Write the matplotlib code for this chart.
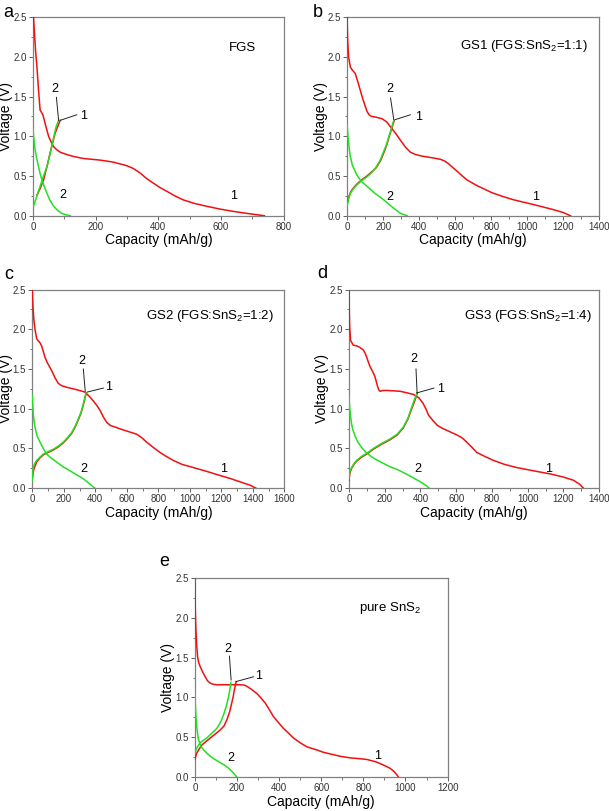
import matplotlib
matplotlib.use("Agg")
import matplotlib.pyplot as plt
from matplotlib.ticker import MultipleLocator, FormatStrFormatter

plt.rcParams['font.family'] = ['Liberation Sans', 'DejaVu Sans']
plt.rcParams['mathtext.fontset'] = 'custom'
plt.rcParams['mathtext.rm'] = 'Liberation Sans'
plt.rcParams['mathtext.default'] = 'regular'

RED = '#f01010'
GREEN = '#22e022'

# ---- a: FGS ----
a_dis1_x = [2, 5, 9, 13, 18, 23, 32, 39, 50, 58, 66, 76, 87, 108, 130, 161, 214, 256, 299, 320, 341, 362, 384, 405, 426, 450, 479, 515, 553, 595, 638, 690, 738]
a_dis1_y = [2.5, 2.3, 2.05, 1.87, 1.58, 1.33, 1.27, 1.16, 1.0, 0.93, 0.87, 0.83, 0.80, 0.77, 0.745, 0.72, 0.70, 0.675, 0.63, 0.595, 0.54, 0.47, 0.41, 0.355, 0.31, 0.255, 0.20, 0.155, 0.12, 0.085, 0.055, 0.025, 0.0]
a_cha1_x = [13, 24, 34, 45, 55, 63, 71, 80, 87]
a_cha1_y = [0.26, 0.35, 0.45, 0.62, 0.79, 0.92, 1.04, 1.13, 1.2]
a_cha2_x = [2, 12, 23, 34, 45, 53, 60, 67, 74, 82]
a_cha2_y = [0.12, 0.24, 0.37, 0.50, 0.62, 0.75, 0.87, 1.0, 1.12, 1.2]
a_dis2_x = [0, 3, 7, 12, 18, 23, 29, 37, 45, 55, 66, 78, 92, 105, 119]
a_dis2_y = [1.1, 0.97, 0.83, 0.72, 0.62, 0.53, 0.45, 0.36, 0.28, 0.19, 0.12, 0.07, 0.03, 0.012, 0.0]

# ---- b: GS1 ----
b_dis1_x = [0, 3, 8, 18, 30, 45, 60, 83, 100, 111, 122, 135, 160, 194, 220, 240, 268, 296, 325, 351, 380, 416, 470, 518, 540, 560, 585, 610, 640, 666, 720, 804, 860, 925, 1036, 1140, 1200, 1240]
b_dis1_y = [2.5, 2.2, 2.0, 1.87, 1.83, 1.79, 1.68, 1.5, 1.38, 1.31, 1.27, 1.25, 1.24, 1.22, 1.18, 1.12, 1.04, 0.95, 0.86, 0.80, 0.77, 0.75, 0.73, 0.71, 0.69, 0.66, 0.61, 0.56, 0.50, 0.45, 0.38, 0.29, 0.245, 0.20, 0.14, 0.08, 0.04, 0.0]
b_cha1_x = [0, 8, 20, 35, 55, 80, 110, 135, 160, 185, 205, 220, 230, 245, 262]
b_cha1_y = [0.15, 0.23, 0.30, 0.35, 0.40, 0.45, 0.50, 0.55, 0.60, 0.69, 0.80, 0.89, 0.97, 1.08, 1.2]
b_cha2_x = [0, 8, 18, 35, 55, 80, 111, 135, 157, 182, 203, 216, 226, 242, 259]
b_cha2_y = [0.12, 0.21, 0.28, 0.34, 0.39, 0.44, 0.49, 0.54, 0.60, 0.69, 0.81, 0.88, 0.95, 1.07, 1.2]
b_dis2_x = [0, 4, 8, 13, 18, 30, 55, 80, 111, 150, 203, 250, 296, 333]
b_dis2_y = [1.15, 1.02, 0.92, 0.82, 0.74, 0.63, 0.51, 0.43, 0.37, 0.29, 0.20, 0.11, 0.03, 0.0]

# ---- c: GS2 ----
c_dis1_x = [0, 3, 6, 11, 17, 28, 40, 49, 59, 70, 80, 95, 112, 128, 144, 165, 186, 218, 281, 334, 360, 387, 410, 430, 450, 472, 495, 525, 560, 599, 662, 695, 726, 770, 811, 850, 895, 950, 1022, 1110, 1192, 1260, 1319, 1380, 1420]
c_dis1_y = [2.5, 2.35, 2.23, 2.1, 2.0, 1.88, 1.85, 1.83, 1.79, 1.72, 1.65, 1.58, 1.52, 1.46, 1.39, 1.32, 1.29, 1.27, 1.24, 1.21, 1.16, 1.10, 1.04, 0.98, 0.90, 0.83, 0.79, 0.77, 0.745, 0.72, 0.68, 0.635, 0.58, 0.51, 0.45, 0.40, 0.35, 0.30, 0.26, 0.21, 0.16, 0.12, 0.08, 0.04, 0.0]
c_cha1_x = [0, 10, 28, 48, 70, 100, 133, 165, 197, 225, 250, 272, 292, 310, 324, 343]
c_cha1_y = [0.12, 0.24, 0.33, 0.38, 0.42, 0.45, 0.48, 0.52, 0.57, 0.63, 0.69, 0.77, 0.86, 0.95, 1.05, 1.2]
c_cha2_x = [0, 6, 15, 28, 48, 70, 100, 133, 165, 197, 225, 250, 272, 292, 310, 324, 341]
c_cha2_y = [0.10, 0.26, 0.31, 0.35, 0.39, 0.43, 0.46, 0.49, 0.53, 0.58, 0.64, 0.70, 0.78, 0.87, 0.96, 1.06, 1.2]
c_dis2_x = [0, 3, 6, 11, 17, 30, 49, 70, 91, 120, 154, 195, 239, 280, 324, 360, 398]
c_dis2_y = [1.17, 1.05, 0.95, 0.85, 0.77, 0.66, 0.58, 0.50, 0.43, 0.38, 0.33, 0.27, 0.22, 0.17, 0.12, 0.06, 0.0]

# ---- d: GS3 ----
d_dis1_x = [0, 2, 4, 9, 24, 45, 62, 80, 90, 99, 108, 118, 132, 146, 153, 159, 166, 174, 190, 211, 250, 286, 325, 360, 390, 414, 430, 445, 470, 495, 526, 565, 604, 635, 659, 690, 715, 760, 808, 870, 939, 1030, 1126, 1200, 1256, 1290, 1312]
d_dis1_y = [2.5, 2.2, 2.03, 1.86, 1.80, 1.79, 1.77, 1.74, 1.70, 1.65, 1.59, 1.53, 1.47, 1.40, 1.34, 1.29, 1.24, 1.22, 1.23, 1.23, 1.225, 1.22, 1.20, 1.18, 1.14, 1.07, 1.00, 0.92, 0.85, 0.79, 0.75, 0.71, 0.67, 0.63, 0.58, 0.51, 0.45, 0.40, 0.35, 0.30, 0.26, 0.22, 0.18, 0.14, 0.10, 0.05, 0.0]
d_cha1_x = [0, 5, 15, 28, 43, 70, 100, 136, 180, 230, 270, 304, 330, 351, 368, 383]
d_cha1_y = [0.10, 0.19, 0.25, 0.30, 0.34, 0.39, 0.43, 0.49, 0.55, 0.61, 0.67, 0.76, 0.87, 1.0, 1.1, 1.2]
d_cha2_x = [0, 5, 15, 28, 43, 70, 100, 136, 180, 230, 270, 304, 330, 351, 367, 381]
d_cha2_y = [0.12, 0.21, 0.26, 0.31, 0.35, 0.40, 0.44, 0.50, 0.56, 0.62, 0.68, 0.77, 0.88, 1.02, 1.12, 1.2]
d_dis2_x = [0, 4, 8, 14, 20, 35, 50, 75, 100, 130, 160, 195, 230, 275, 320, 360, 400, 430, 450]
d_dis2_y = [1.15, 1.02, 0.92, 0.82, 0.75, 0.65, 0.58, 0.50, 0.44, 0.39, 0.35, 0.31, 0.27, 0.23, 0.18, 0.13, 0.08, 0.035, 0.0]

# ---- e: pure SnS2 ----
e_dis1_x = [0, 2, 5, 9, 13, 18, 25, 37, 49, 60, 73, 88, 104, 168, 215, 235, 247, 270, 294, 315, 334, 355, 373, 398, 421, 445, 468, 500, 531, 560, 579, 610, 642, 690, 737, 780, 816, 860, 895, 926, 945, 958, 966]
e_dis1_y = [2.5, 2.1, 1.84, 1.64, 1.51, 1.44, 1.39, 1.32, 1.26, 1.21, 1.18, 1.165, 1.16, 1.16, 1.16, 1.155, 1.14, 1.10, 1.05, 0.99, 0.93, 0.84, 0.76, 0.68, 0.61, 0.55, 0.49, 0.43, 0.38, 0.355, 0.34, 0.31, 0.29, 0.26, 0.24, 0.23, 0.22, 0.19, 0.15, 0.11, 0.07, 0.03, 0.0]
e_cha1_x = [0, 4, 9, 20, 33, 50, 73, 97, 120, 138, 152, 165, 175, 182, 187, 196]
e_cha1_y = [0.22, 0.26, 0.30, 0.35, 0.40, 0.44, 0.49, 0.54, 0.59, 0.64, 0.72, 0.82, 0.93, 1.01, 1.09, 1.2]
e_cha2_x = [0, 10, 25, 40, 57, 80, 104, 122, 136, 149, 160, 166, 171]
e_cha2_y = [0.30, 0.37, 0.43, 0.46, 0.49, 0.55, 0.61, 0.69, 0.78, 0.89, 1.01, 1.10, 1.19]
e_dis2_x = [0, 2, 5, 10, 17, 28, 41, 57, 73, 95, 120, 140, 160, 172, 183, 192, 199]
e_dis2_y = [1.09, 0.92, 0.76, 0.60, 0.47, 0.39, 0.34, 0.30, 0.26, 0.22, 0.18, 0.15, 0.11, 0.08, 0.05, 0.02, 0.0]

panels = [
    dict(letter='a', rect=[0.054, 0.734, 0.412, 0.245], xmax=800, title='FGS', tpos=(667, 2.11),
         dis1=(a_dis1_x, a_dis1_y), cha1=(a_cha1_x, a_cha1_y), cha2=(a_cha2_x, a_cha2_y), dis2=(a_dis2_x, a_dis2_y),
         l2=(71, 1.6), l2line=((75, 1.49), (82, 1.2)), l1=(160, 1.25), l1line=((87, 1.2), (140, 1.27)),
         low2=(97, 0.26), low1=(641, 0.25), lpos=(0.006, 0.995)),
    dict(letter='b', rect=[0.570, 0.734, 0.414, 0.245], xmax=1400, title='GS1 (FGS:SnS$_2$=1:1)', tpos=(980, 2.14),
         dis1=(b_dis1_x, b_dis1_y), cha1=(b_cha1_x, b_cha1_y), cha2=(b_cha2_x, b_cha2_y), dis2=(b_dis2_x, b_dis2_y),
         l2=(237, 1.6), l2line=((241, 1.48), (259, 1.21)), l1=(395, 1.24), l1line=((268, 1.21), (351, 1.27)),
         low2=(237, 0.24), low1=(1045, 0.24), lpos=(0.514, 0.995)),
    dict(letter='c', rect=[0.053, 0.398, 0.414, 0.245], xmax=1600, title='GS2 (FGS:SnS$_2$=1:2)', tpos=(1128, 2.17),
         dis1=(c_dis1_x, c_dis1_y), cha1=(c_cha1_x, c_cha1_y), cha2=(c_cha2_x, c_cha2_y), dis2=(c_dis2_x, c_dis2_y),
         l2=(313, 1.6), l2line=((324, 1.5), (336, 1.22)), l1=(484, 1.27), l1line=((349, 1.21), (451, 1.26)),
         low2=(324, 0.24), low1=(1213, 0.24), lpos=(0.007, 0.672)),
    dict(letter='d', rect=[0.573, 0.398, 0.411, 0.245], xmax=1400, title='GS3 (FGS:SnS$_2$=1:4)', tpos=(1000, 2.17),
         dis1=(d_dis1_x, d_dis1_y), cha1=(d_cha1_x, d_cha1_y), cha2=(d_cha2_x, d_cha2_y), dis2=(d_dis2_x, d_dis2_y),
         l2=(365, 1.62), l2line=((375, 1.5), (381, 1.2)), l1=(510, 1.25), l1line=((381, 1.2), (475, 1.26)),
         low2=(385, 0.24), low1=(1115, 0.24), lpos=(0.521, 0.673)),
    dict(letter='e', rect=[0.320, 0.042, 0.415, 0.245], xmax=1200, title='pure SnS$_2$', tpos=(926, 2.13),
         dis1=(e_dis1_x, e_dis1_y), cha1=(e_cha1_x, e_cha1_y), cha2=(e_cha2_x, e_cha2_y), dis2=(e_dis2_x, e_dis2_y),
         l2=(155, 1.61), l2line=((164, 1.52), (172, 1.22)), l1=(302, 1.27), l1line=((196, 1.2), (278, 1.26)),
         low2=(172, 0.24), low1=(868, 0.26), lpos=(0.262, 0.318)),
]

fig = plt.figure(figsize=(6.09, 8.11), dpi=100)

for p in panels:
    ax = fig.add_axes(p['rect'])
    ax.plot(*p['dis1'], color=RED, lw=1.1, zorder=3)
    ax.plot(*p['cha1'], color=RED, lw=1.1, zorder=3)
    ax.plot(*p['cha2'], color=GREEN, lw=1.1, zorder=4)
    ax.plot(*p['dis2'], color=GREEN, lw=1.1, zorder=4)

    ax.set_xlim(0, p['xmax'])
    ax.set_ylim(0, 2.5)
    ax.xaxis.set_major_locator(MultipleLocator(200))
    ax.xaxis.set_minor_locator(MultipleLocator(100))
    ax.yaxis.set_major_locator(MultipleLocator(0.5))
    ax.yaxis.set_minor_locator(MultipleLocator(0.25))
    ax.yaxis.set_major_formatter(FormatStrFormatter('%.1f'))
    ax.tick_params(which='major', direction='out', length=3, width=0.7, colors='#606060',
                   labelsize=7, labelcolor='#333333', pad=1.5)
    ax.tick_params(which='minor', direction='out', length=1.8, width=0.6, colors='#606060')
    for s in ax.spines.values():
        s.set_color('#808080')
        s.set_linewidth(0.9)

    ax.set_xlabel('Capacity (mAh/g)', fontsize=10, labelpad=1)
    ax.set_ylabel('Voltage (V)', fontsize=10, labelpad=0)

    ax.text(*p['tpos'], p['title'], fontsize=9.5, ha='center', va='center')

    # cycle labels with leader lines
    ax.text(*p['l2'], '2', fontsize=9, ha='center', va='center')
    ax.text(*p['l1'], '1', fontsize=9, ha='center', va='center')
    (x0, y0), (x1, y1) = p['l2line']
    ax.plot([x0, x1], [y0, y1], color='#222222', lw=0.7, zorder=5)
    (x0, y0), (x1, y1) = p['l1line']
    ax.plot([x0, x1], [y0, y1], color='#222222', lw=0.7, zorder=5)
    ax.text(*p['low2'], '2', fontsize=9, ha='center', va='center')
    ax.text(*p['low1'], '1', fontsize=9, ha='center', va='center')

    fig.text(*p['lpos'], p['letter'], fontsize=13, ha='left', va='top')

fig.savefig('out.png', dpi=100)
